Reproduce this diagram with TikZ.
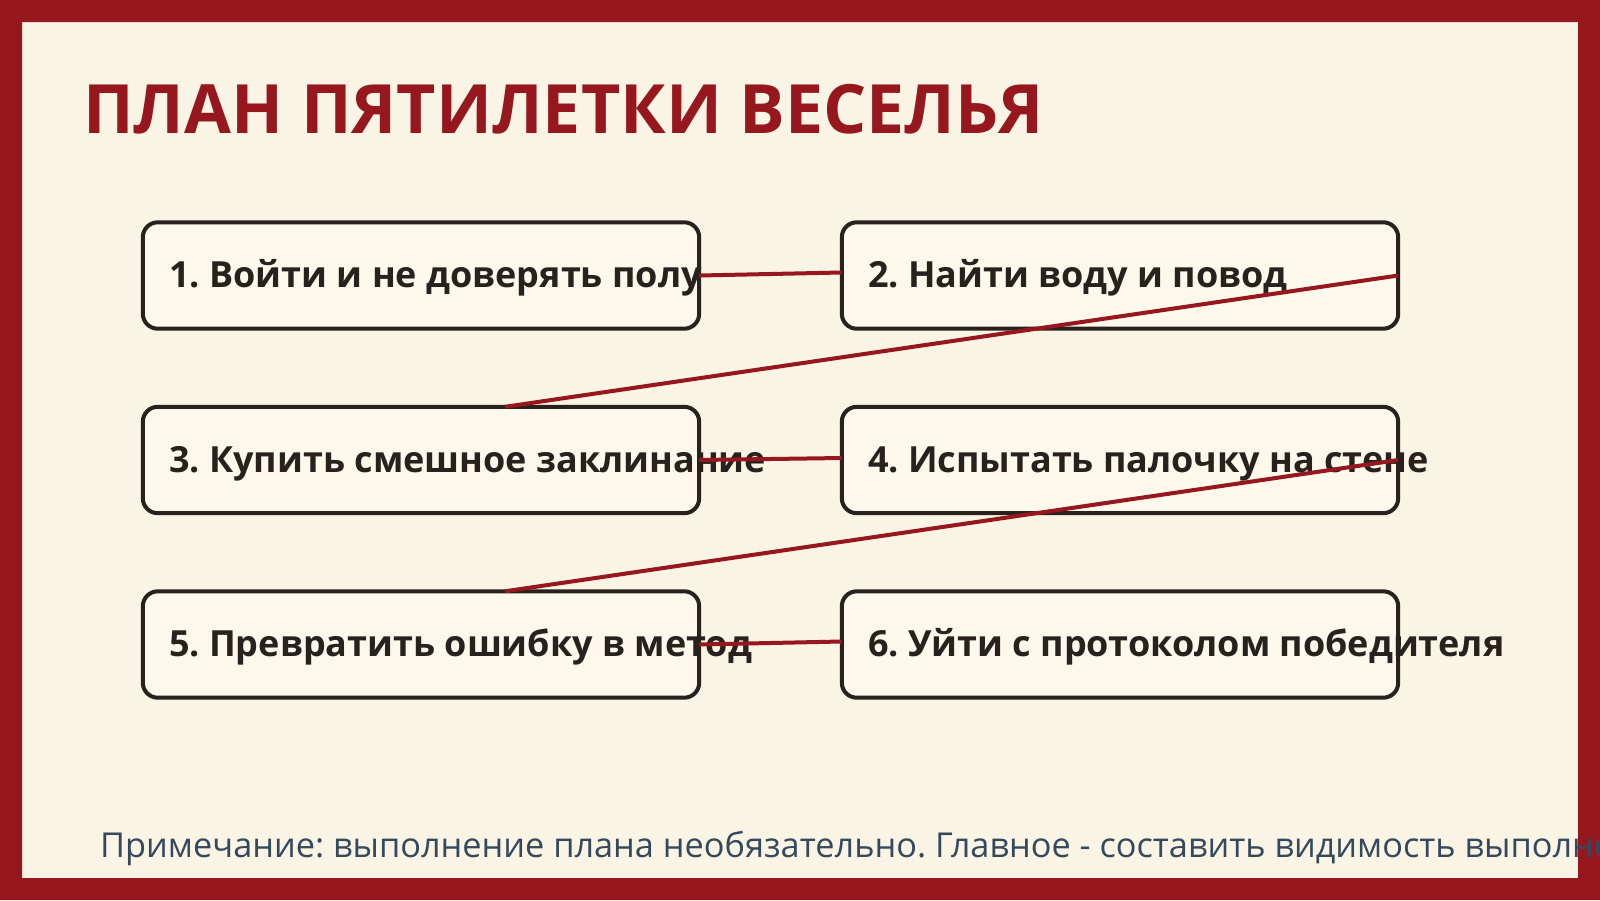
\documentclass[tikz,border=0pt]{standalone}
\usepackage{fontspec}
\setmainfont{Open Sans}
\frenchspacing
\definecolor{framered}{RGB}{150,23,30}
\definecolor{bgcream}{RGB}{249,244,227}
\definecolor{boxfill}{RGB}{253,248,236}
\definecolor{inkdark}{RGB}{42,32,29}
\definecolor{noteblue}{RGB}{52,73,94}
\tikzset{
  boxbg/.style={rectangle, rounded corners=15pt, fill=boxfill, minimum width=556pt, minimum height=106pt, inner sep=0pt},
  boxline/.style={draw=inkdark, line width=4pt, rounded corners=15pt},
  boxtext/.style={anchor=base west, inner sep=0pt, text=inkdark, font=\fontsize{36}{43}\selectfont\bfseries},
  conn/.style={draw=framered, line width=4pt},
  titletext/.style={anchor=base west, inner sep=0pt, text=framered, font=\fontsize{68}{82}\selectfont\bfseries},
  notetext/.style={anchor=base west, inner sep=0pt, text=noteblue, font=\fontsize{34.3}{41}\selectfont}
}
\begin{document}
\begin{tikzpicture}[x=1pt,y=-1pt]
\useasboundingbox (0,0) rectangle (1600,900);
\fill[bgcream] (0,0) rectangle (1600,900);
% title
\node[titletext] (title) at (83,133.5) {ПЛАН ПЯТИЛЕТКИ ВЕСЕЛЬЯ};
% boxes
\node[boxbg] (b1) at (421,275.5) {};
\node[boxbg] (b2) at (1120,275.5) {};
\node[boxbg] (b3) at (421,460) {};
\node[boxbg] (b4) at (1120,460) {};
\node[boxbg] (b5) at (421,644.5) {};
\node[boxbg] (b6) at (1120,644.5) {};
% texts
\foreach \b/\t in {b1/{1. Войти и не доверять полу}, b2/{2. Найти воду и повод}, b3/{3. Купить смешное заклинание}, b4/{4. Испытать палочку на стене}, b5/{5. Превратить ошибку в метод}, b6/{6. Уйти с протоколом победителя}}
  \node[boxtext] (t\b) at ([xshift=26pt,yshift=-12pt]\b.west) {\t};
% borders
\foreach \b in {b1,b2,b3,b4,b5,b6}
  \draw[boxline] (\b.south west) rectangle (\b.north east);
% connectors
\draw[conn] (b1.east) -- ([yshift=3pt]b2.west);
\draw[conn] (b2.east) -- ([xshift=84pt]b3.north);
\draw[conn] (b3.east) -- ([yshift=2pt]b4.west);
\draw[conn] (b4.east) -- ([xshift=84pt]b5.north);
\draw[conn] (b5.east) -- ([yshift=3pt]b6.west);
% frame
\fill[framered, even odd rule] (0,0) rectangle (1600,900) (22,22) rectangle (1578,878);
% note
\node[notetext] (note) at (100,857.5) {Примечание: выполнение плана необязательно. Главное - составить видимость выполнения.};
\end{tikzpicture}
\end{document}
